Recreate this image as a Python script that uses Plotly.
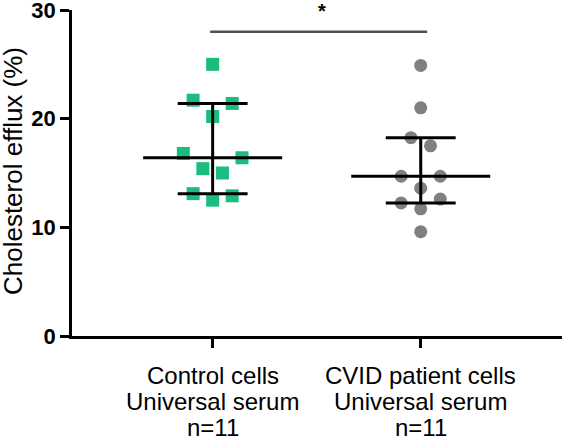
import numpy as np
import plotly.graph_objects as go

category_lines = [
    ["Control cells", "Universal serum", "n=11"],
    ["CVID patient cells", "Universal serum", "n=11"],
]
control_values = [25.0, 21.7, 21.4, 20.2, 16.8, 16.4, 15.4, 15.0, 13.1, 12.9, 12.5]
patient_values = [24.9, 21.0, 18.25, 17.5, 14.7, 14.7, 13.6, 12.25, 12.6, 11.7, 9.6]
y_ticks = [0, 10, 20, 30]
y_title = "Cholesterol efflux (%)"
significance = "*"
sig_level = 28.0

# horizontal spread of points (layout only)
control_offsets = [0, -2, 2, 0, -3, 3, -1, 1, -2, 2, 0]
patient_offsets = [0, 0, -1, 1, -2, 2, 0, -2, 2, 0, 0]
STEP = 0.047

FONT = "Liberation Sans, Arial, sans-serif"


def quartiles(vals):
    s = sorted(vals)
    n = len(s)

    def at(pos):
        lo = int(np.floor(pos)) - 1
        frac = pos - np.floor(pos)
        if lo + 1 >= n:
            return s[-1]
        return s[lo] + frac * (s[lo + 1] - s[lo])

    return at((n + 1) / 4), at((n + 1) / 2), at(3 * (n + 1) / 4)


fig = go.Figure()
groups = [
    (control_values, control_offsets, "square", "#1bbd7f", 13),
    (patient_values, patient_offsets, "circle", "#808080", 13),
]
shapes = []
for i, (vals, offs, sym, col, sz) in enumerate(groups):
    fig.add_trace(go.Scatter(
        x=[i + o * STEP for o in offs], y=vals, mode="markers",
        marker=dict(symbol=sym, color=col, size=sz, line=dict(width=0)),
        showlegend=False, cliponaxis=False, hoverinfo="skip"))
    q1, med, q3 = quartiles(vals)
    line = dict(color="black", width=3)
    shapes.append(dict(type="line", x0=i - 0.334, x1=i + 0.334, y0=med, y1=med, line=line, layer="above"))
    shapes.append(dict(type="line", x0=i - 0.168, x1=i + 0.168, y0=q1, y1=q1, line=line, layer="above"))
    shapes.append(dict(type="line", x0=i - 0.168, x1=i + 0.168, y0=q3, y1=q3, line=line, layer="above"))
    shapes.append(dict(type="line", x0=i, x1=i, y0=q1, y1=q3, line=line, layer="above"))

# significance bar
shapes.append(dict(type="line", x0=-0.012, x1=1.031, y0=sig_level, y1=sig_level,
                   line=dict(color="#505050", width=2.5)))

annotations = [dict(x=0.525, y=0.988, xref="x", yref="paper", yshift=3, text="<b>" + significance + "</b>",
                    showarrow=False, yanchor="middle", xanchor="center",
                    font=dict(family=FONT, size=20, color="black"))]

# category labels (three lines each)
line_shifts = [-39.5, -65.0, -91.0]
for i, lines in enumerate(category_lines):
    for txt, ys in zip(lines, line_shifts):
        annotations.append(dict(x=i, y=0, xref="x", yref="paper", yshift=ys, text=txt,
                                showarrow=False, xanchor="center", yanchor="middle",
                                font=dict(family=FONT, size=24, color="black")))

# y-axis title
annotations.append(dict(x=0, y=0.506, xref="paper", yref="paper", xshift=-59, text=y_title,
                        textangle=-90, showarrow=False, xanchor="center", yanchor="middle",
                        font=dict(family=FONT, size=26, color="black")))

fig.update_layout(
    width=562, height=442,
    margin=dict(l=72, r=0, t=10, b=106),
    paper_bgcolor="white", plot_bgcolor="white",
    font=dict(family=FONT, color="black"),
    shapes=shapes,
    annotations=annotations,
    xaxis=dict(range=[-0.676, 1.679], tickvals=[0, 1], ticktext=["", ""],
               showline=True, linecolor="black", linewidth=2.5, ticks="outside",
               ticklen=9, tickwidth=2.5, tickcolor="black", showgrid=False, zeroline=False,
               automargin=False),
    yaxis=dict(range=[0, 30], tickvals=y_ticks, ticktext=["<b>%d</b>" % t for t in y_ticks],
               showline=True, linecolor="black", linewidth=2.5, ticks="outside",
               ticklen=9, tickwidth=2.5, tickcolor="black", showgrid=False, zeroline=False,
               tickfont=dict(family=FONT, size=22, color="black"), automargin=False,
               ticklabeloverflow="allow"),
)

fig.write_html("out.html", config={"displayModeBar": False},
               post_script="document.body.style.margin='0';")
